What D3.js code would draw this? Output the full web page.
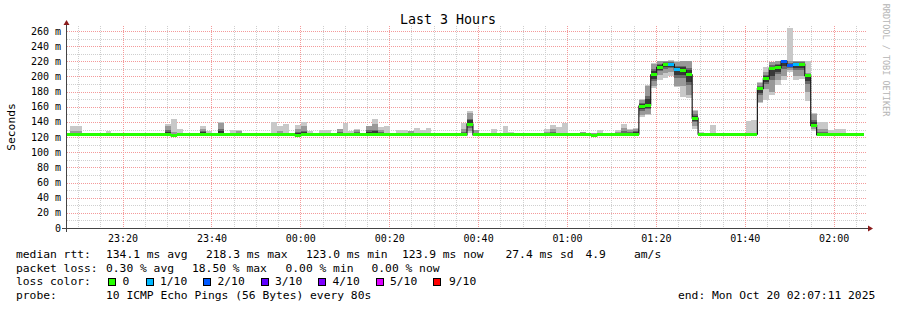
<!DOCTYPE html>
<html>
<head>
<meta charset="utf-8">
<script src="https://cdn.jsdelivr.net/npm/d3@7"></script>
<style>
  body { margin: 0; background: #fff; }
  text { font-family: "DejaVu Sans Mono", monospace; fill: #000; }
</style>
</head>
<body>
<svg id="chart" width="897" height="310"></svg>
<script>
// one value per 80 s step, 135 steps (ms)
const rttMedian = [
  123,124,124,123,123,123,123,123,123,123,123,123,123,123,123,
  123,123,123,122,123,123,123,123,124,123,123,123,123,123,123,
  123,123,123,123,123,123,123,123,123,122,123,123,123,123,123,
  123,123,123,123,123,123,124,123,123,123,123,123,123,123,123,
  123,123,123,123,123,123,123,123,137,123,123,123,123,123,123,
  123,123,123,123,123,123,123,123,123,123,123,123,123,123,122,
  123,123,123,123,123,123,124,161,162,202,212,216,216,209,208,
  202,145,124,123,123,123,123,123,123,123,123,124,184,197,210,
  212,220,214,216,216,201,135,123,123,123,123,123,123,123,123
];
const rttMin = [
  122,122,122,122,122,122,122,122,122,122,122,122,122,122,122,
  122,122,122,121,122,122,122,122,122,122,122,122,122,122,122,
  122,122,122,122,122,122,122,122,122,121,122,122,122,122,122,
  122,122,122,122,122,122,122,122,122,122,122,122,122,122,122,
  122,122,122,122,122,122,122,122,126,122,122,122,122,122,122,
  122,122,122,122,122,122,122,122,122,122,122,122,122,122,121,
  122,122,122,122,122,122,122,147,149,185,195,198,200,186,173,
  171,131,122,122,122,122,122,122,122,122,122,122,165,169,175,
  189,195,206,195,197,167,128,122,122,122,122,122,122,122,122
];
const rttLo = [
  123,123,123,123,123,123,123,123,123,123,123,123,123,123,123,
  123,123,123,122,123,123,123,123,123,123,123,123,123,123,123,
  123,123,123,123,123,123,123,123,123,122,123,123,123,123,123,
  123,123,123,123,123,123,123,123,123,123,123,123,123,123,123,
  123,123,123,123,123,123,123,123,128,123,123,123,123,123,123,
  123,123,123,123,123,123,123,123,123,123,123,123,123,123,122,
  123,123,123,123,123,123,123,149,151,187,202,205,206,188,188,
  175,134,123,123,123,123,123,123,123,123,123,123,166,184,180,
  195,200,208,200,200,180,131,123,123,123,123,123,123,123,123
];
const rttHi = [
  124,128,128,124,124,124,124,124,124,124,125,124,124,124,124,
  124,124,135,127,124,124,124,124,131,124,124,138,124,124,128,
  124,124,124,124,124,124,128,124,124,131,134,124,124,124,124,
  124,131,124,124,130,124,134,137,130,124,124,124,124,128,124,
  124,124,124,124,124,124,124,131,152,129,124,124,124,124,124,
  124,124,124,124,124,124,127,131,124,124,124,124,127,124,125,
  124,124,124,127,132,130,131,169,187,217,220,221,221,219,220,
  220,155,125,124,124,124,124,124,124,124,124,124,191,206,219,
  221,221,221,221,221,205,150,131,131,124,124,124,124,124,124
];
const rttMax = [
  125,134,134,126,125,125,125,128,125,126,126,125,125,125,125,
  125,125,137,144,131,125,125,126,135,128,125,140,125,130,130,
  125,125,125,125,125,140,135,137,125,136,140,128,125,130,129,
  125,131,138,128,131,125,135,144,133,134,125,130,130,128,132,
  130,132,125,125,126,125,125,138,154,129,125,125,131,125,135,
  127,125,125,125,125,125,131,136,133,139,125,125,127,125,125,
  130,125,125,130,137,131,132,170,189,218,221,221,222,220,221,
  221,156,127,125,136,125,125,125,125,125,141,142,193,213,219,
  221,221,264,221,221,221,152,140,140,129,131,131,125,125,125
];
// lost pings out of 10 per step
const lossTenths = [
  0,0,0,0,0,0,0,0,0,0,0,0,0,0,0,
  0,0,0,0,0,0,0,0,0,0,0,0,0,0,0,
  0,0,0,0,0,0,0,0,0,0,0,0,0,0,0,
  0,0,0,0,0,0,0,0,0,0,0,0,0,0,0,
  0,0,0,0,0,0,0,0,0,0,0,0,0,0,0,
  0,0,0,0,0,0,0,0,0,0,0,0,0,0,0,
  0,0,0,0,0,0,0,0,0,0,0,0,1,1,0,
  0,0,0,0,0,0,0,0,0,0,0,0,0,0,0,
  0,2,2,1,0,0,0,0,0,0,0,0,0,0,0
];

const lossLabels = ['0', '1/10', '2/10', '3/10', '4/10', '5/10', '9/10'];
const lossColors = ['#26ff00', '#00b8ff', '#0059ff', '#5e00ff', '#7e00ff', '#dd00ff', '#ff0000'];

const statsRtt = ['134.1 ms avg', '218.3 ms max', '123.0 ms min', '123.9 ms now', '27.4 ms sd', '4.9', 'am/s'];
const statsLoss = ['0.30 % avg', '18.50 % max', '0.00 % min', '0.00 % now'];
const probeText = '10 ICMP Echo Pings (56 Bytes) every 80s';
const endText = 'end: Mon Oct 20 02:07:11 2025';

const yTicks = [0, 20, 40, 60, 80, 100, 120, 140, 160, 180, 200, 220, 240, 260];

const firstStep = new Date(2025, 9, 19, 23, 6, 50);
const stepSec = 80;
const viewStart = new Date(2025, 9, 19, 23, 7, 30);
const viewEnd = new Date(2025, 9, 20, 2, 7, 30);

const svg = d3.select('#chart');
const pLeft = 67, pRight = 867, pTop = 26, pBottom = 228;

const x = d3.scaleTime().domain([viewStart, viewEnd]).range([pLeft, pRight]);
const y = d3.scaleLinear().domain([0, 266.6]).range([pBottom, pTop]);

// grid
const grid = svg.append('g').attr('shape-rendering', 'crispEdges');
const minorT = x.ticks(d3.timeMinute.every(5));
const majorT = x.ticks(d3.timeMinute.every(20));
grid.selectAll('.vmin').data(minorT).enter().append('line')
  .attr('x1', d => Math.round(x(d)) + 0.5).attr('x2', d => Math.round(x(d)) + 0.5)
  .attr('y1', pTop).attr('y2', pBottom)
  .attr('stroke', '#cfcfcf').attr('stroke-dasharray', '1,1');
grid.selectAll('.hmin').data(d3.range(10, 261, 20)).enter().append('line')
  .attr('x1', pLeft).attr('x2', pRight)
  .attr('y1', d => Math.round(y(d)) + 0.5).attr('y2', d => Math.round(y(d)) + 0.5)
  .attr('stroke', '#cfcfcf').attr('stroke-dasharray', '1,1');
grid.selectAll('.vmaj').data(majorT).enter().append('line')
  .attr('x1', d => Math.round(x(d)) + 0.5).attr('x2', d => Math.round(x(d)) + 0.5)
  .attr('y1', pTop).attr('y2', pBottom)
  .attr('stroke', '#f49a9a').attr('stroke-dasharray', '1,1');
grid.selectAll('.hmaj').data(yTicks.filter(d => d > 0)).enter().append('line')
  .attr('x1', pLeft).attr('x2', pRight)
  .attr('y1', d => Math.round(y(d)) + 0.5).attr('y2', d => Math.round(y(d)) + 0.5)
  .attr('stroke', '#f49a9a').attr('stroke-dasharray', '1,1');

// steps
const steps = rttMedian.map((m, i) => ({
  t0: d3.timeSecond.offset(firstStep, i * stepSec),
  t1: d3.timeSecond.offset(firstStep, (i + 1) * stepSec),
  med: m, min: rttMin[i], lo: rttLo[i], hi: rttHi[i], max: rttMax[i], loss: lossTenths[i]
}));

svg.append('clipPath').attr('id', 'plot')
  .append('rect').attr('x', pLeft).attr('y', pTop).attr('width', pRight - pLeft).attr('height', pBottom - pTop);

const plot = svg.append('g').attr('clip-path', 'url(#plot)');

// smoke: outer pings light, inner pings darker toward the median
function band(color, lowF, highF) {
  plot.append('g').attr('shape-rendering', 'crispEdges')
    .selectAll('rect').data(steps).enter().append('rect')
    .attr('x', d => x(d.t0))
    .attr('width', d => x(d.t1) - x(d.t0))
    .attr('y', d => y(highF(d)))
    .attr('height', d => Math.max(0, y(lowF(d)) - y(highF(d))))
    .attr('fill', color);
}
band('#c8c8c8', d => d.min, d => d.max);
band('#999999', d => d.lo, d => d.hi);
band('#6a6a6a', d => (d.lo + d.med) / 2, d => (d.hi + d.med) / 2);
band('#383838', d => (d.lo + 2 * d.med) / 3, d => (d.hi + 2 * d.med) / 3);

// median step line
const pts = [];
steps.forEach(d => { pts.push([x(d.t0), y(d.med)]); pts.push([x(d.t1), y(d.med)]); });
plot.append('path')
  .attr('d', d3.line()(pts))
  .attr('fill', 'none')
  .attr('stroke', '#1e1e1e')
  .attr('stroke-width', 1.2);

const lossColor = n => n >= 9 ? lossColors[6] : n >= 5 ? lossColors[5] : lossColors[n];
plot.append('g').attr('shape-rendering', 'crispEdges')
  .selectAll('rect').data(steps).enter().append('rect')
  .attr('x', d => x(d.t0))
  .attr('width', d => x(d.t1) - x(d.t0))
  .attr('y', d => y(d.med) - 1.5)
  .attr('height', 3)
  .attr('fill', d => lossColor(d.loss));

// axes
svg.append('line').attr('x1', 62).attr('x2', 868).attr('y1', 228.5).attr('y2', 228.5)
  .attr('stroke', '#444');
svg.append('line').attr('x1', 66.5).attr('x2', 66.5).attr('y1', 232).attr('y2', 24)
  .attr('stroke', '#444');
svg.append('path').attr('d', 'M868,225.5 L873,228.5 L868,231.5 Z').attr('fill', '#8b1c1c');
svg.append('path').attr('d', 'M63.5,25 L66.5,20 L69.5,25 Z').attr('fill', '#8b1c1c');

svg.selectAll('.ylab').data(yTicks).enter().append('text')
  .attr('x', 61).attr('y', d => y(d) + 3.5)
  .attr('text-anchor', 'end')
  .style('font-size', '10px')
  .text(d => d === 0 ? '0' : d + ' m');

const fmt = d3.timeFormat('%H:%M');
svg.selectAll('.xlab').data(majorT).enter().append('text')
  .attr('x', d => x(d) + 0.5).attr('y', 242)
  .attr('text-anchor', 'middle')
  .style('font-size', '10px')
  .text(d => fmt(d));

svg.append('text')
  .attr('x', 448).attr('y', 24)
  .attr('text-anchor', 'middle')
  .style('font-size', '13.3px')
  .text('Last 3 Hours');

svg.append('text')
  .attr('transform', 'translate(15,127) rotate(-90)')
  .attr('text-anchor', 'middle')
  .style('font-size', '11.3px')
  .text('Seconds');

svg.append('text')
  .attr('transform', 'translate(883,60) rotate(90)')
  .attr('text-anchor', 'middle')
  .style('font-size', '8.5px')
  .style('fill', '#b4b4b4')
  .text('RRDTOOL / TOBI OETIKER');

// legend
const leg = svg.append('g').style('font-size', '11.3px');
const rttX = [106, 206, 306, 402, 505.5, 585.5, 634];
const lossX = [106, 192, 285.5, 371.5];
leg.append('text').attr('x', 16).attr('y', 258).text('median rtt:');
statsRtt.forEach((s, i) => leg.append('text').attr('x', rttX[i]).attr('y', 258).text(s));
leg.append('text').attr('x', 16).attr('y', 271.5).text('packet loss:');
statsLoss.forEach((s, i) => leg.append('text').attr('x', lossX[i]).attr('y', 271.5).text(s));
leg.append('text').attr('x', 16).attr('y', 285).text('loss color:');
const boxX = [108.5, 146, 203.5, 261, 318.5, 376, 433.5];
const labX = [122.5, 160, 217.5, 275, 332.5, 390, 449];
lossLabels.forEach((s, i) => {
  leg.append('rect').attr('x', boxX[i]).attr('y', 278.5).attr('width', 7).attr('height', 7)
    .attr('fill', lossColors[i]).attr('stroke', '#000').attr('stroke-width', 1)
    .attr('shape-rendering', 'crispEdges');
  leg.append('text').attr('x', labX[i]).attr('y', 285).text(s);
});
leg.append('text').attr('x', 16).attr('y', 298.5).text('probe:');
leg.append('text').attr('x', 106).attr('y', 298.5).text(probeText);
leg.append('text').attr('x', 678).attr('y', 298.5).text(endText);
</script>
</body>
</html>
